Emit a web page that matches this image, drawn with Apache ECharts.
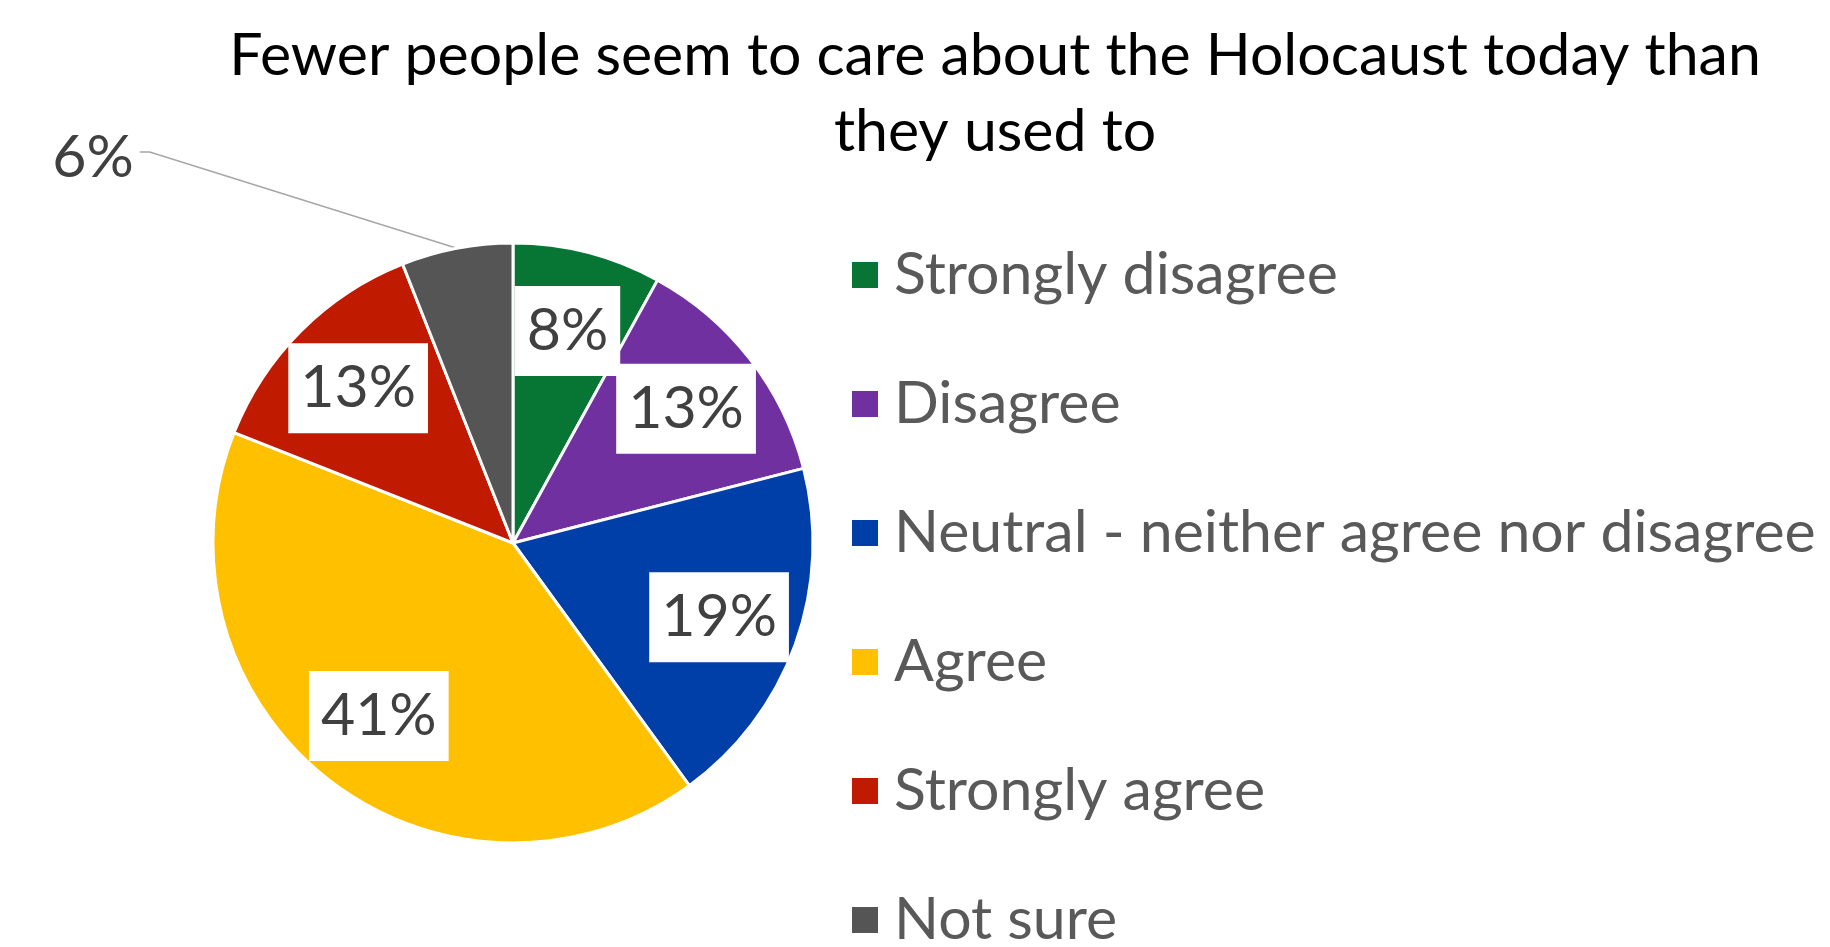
<!DOCTYPE html>
<html>
<head>
<meta charset="utf-8">
<title>Fewer people seem to care about the Holocaust today than they used to</title>
<script src="https://cdn.jsdelivr.net/npm/echarts@6/dist/echarts.min.js"></script>
<style>
  html, body { margin: 0; padding: 0; background: #fff; }
  #chart { width: 1830px; height: 947px; }
</style>
</head>
<body>
<div id="chart"></div>
<script>
// Survey responses (percent of respondents)
const categories = [
  'Strongly disagree',
  'Disagree',
  'Neutral - neither agree nor disagree',
  'Agree',
  'Strongly agree',
  'Not sure'
];
const shares = [8, 13, 19, 41, 13, 6];
const sliceColors = ['#077534', '#7030A0', '#003FA8', '#FFC000', '#C01A00', '#555555'];
const titleLines = ['Fewer people seem to care about the Holocaust today than', 'they used to'];

// the small slice gets its label outside the pie, with a leader line
const outsideLabelName = 'Not sure';

const FONT = 'Lato, "Open Sans", sans-serif';
const CENTER = [513, 543];
const RADIUS = 300;
const LABEL_RADIUS = 0.73; // fraction of the pie radius where in-slice labels sit

const chart = echarts.init(document.getElementById('chart'), null, { renderer: 'canvas' });

const pieData = categories.map((name, i) => ({
  name,
  value: shares[i],
  itemStyle: { color: sliceColors[i] },
  label: name === outsideLabelName
    ? { show: true, position: 'outside' }
    : { show: false },
  labelLine: { show: name === outsideLabelName }
}));

// in-slice labels: one point per slice at the middle of its angular span,
// placed on a polar system that shares the pie's centre and radius
const total = shares.reduce((a, b) => a + b, 0);
const labelPoints = [];
let running = 0;
categories.forEach((name, i) => {
  const mid = running + shares[i] / 2;
  running += shares[i];
  if (name !== outsideLabelName) {
    labelPoints.push({ name, value: [LABEL_RADIUS, mid, shares[i]] });
  }
});

const option = {
  backgroundColor: '#ffffff',
  animation: false,
  title: {
    text: titleLines.join('\n'),
    left: 990,
    top: 13,
    textAlign: 'center',
    textStyle: {
      fontFamily: FONT,
      fontSize: 59,
      fontWeight: 'normal',
      color: '#000000',
      lineHeight: 76
    }
  },
  legend: {
    orient: 'vertical',
    left: 845,
    top: 238,
    height: 760,
    icon: 'rect',
    itemWidth: 28,
    itemHeight: 28,
    itemGap: 65,
    data: categories,
    textStyle: {
      fontFamily: FONT,
      fontSize: 59,
      color: '#595959',
      lineHeight: 64,
      padding: [0, 0, 0, 10]
    }
  },
  polar: {
    center: CENTER,
    radius: RADIUS
  },
  angleAxis: {
    type: 'value',
    min: 0,
    max: total,
    startAngle: 90,
    clockwise: true,
    show: false
  },
  radiusAxis: {
    type: 'value',
    min: 0,
    max: 1,
    show: false
  },
  series: [
    {
      type: 'pie',
      center: CENTER,
      radius: RADIUS,
      startAngle: 90,
      clockwise: true,
      avoidLabelOverlap: false,
      silent: true,
      itemStyle: { borderColor: '#ffffff', borderWidth: 3 },
      label: {
        formatter: '{c}%',
        fontFamily: FONT,
        fontSize: 59,
        color: '#404040'
      },
      labelLine: {
        length: 20,
        length2: 20,
        smooth: false,
        lineStyle: { color: '#A6A6A6', width: 1.5 }
      },
      labelLayout: function (params) {
        if (params.dataIndex !== categories.indexOf(outsideLabelName)) return {};
        const w = params.labelRect.width;
        const lx = 93, ly = 158;
        const pts = params.labelLinePoints;
        const endX = lx + w / 2 + 6;
        const lineY = ly - 6;
        return {
          x: lx,
          y: ly,
          align: 'center',
          verticalAlign: 'middle',
          labelLinePoints: [pts[0], [endX + 10, lineY], [endX, lineY]]
        };
      },
      data: pieData
    },
    {
      type: 'scatter',
      coordinateSystem: 'polar',
      silent: true,
      symbolSize: 1,
      itemStyle: { color: 'rgba(0,0,0,0)', opacity: 1 },
      label: {
        show: true,
        position: 'inside',
        formatter: (p) => p.value[2] + '%',
        fontFamily: FONT,
        fontSize: 59,
        color: '#404040',
        backgroundColor: '#ffffff',
        opacity: 1,
        lineHeight: 78,
        padding: [6, 12]
      },
      data: labelPoints,
      z: 5
    }
  ]
};

chart.setOption(option);
</script>
</body>
</html>
